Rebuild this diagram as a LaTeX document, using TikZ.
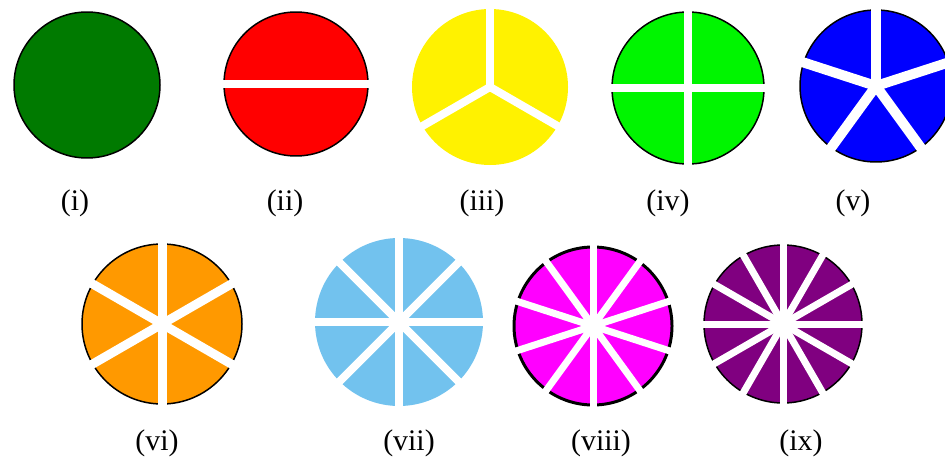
\documentclass[tikz,border=0pt]{standalone}
\usepackage{fontspec}
\setmainfont{Liberation Serif}
\usepackage{tikz}
\definecolor{discgreen}{RGB}{0,122,0}
\definecolor{discred}{RGB}{255,0,0}
\definecolor{discyellow}{RGB}{255,242,0}
\definecolor{disclime}{RGB}{0,245,0}
\definecolor{discblue}{RGB}{0,0,255}
\definecolor{discorange}{RGB}{255,153,0}
\definecolor{discsky}{RGB}{114,194,238}
\definecolor{discmagenta}{RGB}{255,0,255}
\definecolor{discpurple}{RGB}{128,0,128}
% #1 centre, #2 radius, #3 look of the disc, #4 cut width, #5 cut angles
\newcommand{\slicedisc}[5]{%
  \fill[#3] (#1) circle (#2);
  \foreach \ang in {#5}
    \draw[cut,line width=#4] (#1) -- ++(\ang:{#2+4});
  \fill[white] (#1) circle (3);
}

\begin{document}
\begin{tikzpicture}[x=0.02cm,y=0.02cm,
  rim/.style ={draw=black,line width=0.85pt},
  cut/.style ={draw=white,line cap=butt},
  tag/.style ={font=\fontsize{17}{20}\selectfont,inner sep=0pt},
]
\useasboundingbox (0,0) rectangle (945,464);
\clip (0,0) rectangle (945,464);

% top row
\coordinate (c1) at (87,379);
\coordinate (c2) at (296,380);
\coordinate (c3) at (490,377);
\coordinate (c4) at (688,376);
\coordinate (c5) at (876,378);
\fill[discgreen,rim] (c1) circle (73);
\slicedisc{c2}{72}{discred,rim}{0.18cm}{0,180}
\slicedisc{c3}{78}{discyellow}{0.16cm}{90,210,330}
\slicedisc{c4}{76}{disclime,rim}{0.16cm}{0,90,180,270}
\slicedisc{c5}{76}{discblue,rim}{0.2cm}{18,90,162,234,306}

% bottom row
\coordinate (c6) at (162,140);
\coordinate (c7) at (399,142);
\coordinate (c8) at (593,138);
\coordinate (c9) at (783,140);
\slicedisc{c6}{80}{discorange,rim}{0.18cm}{30,90,...,330}
\slicedisc{c7}{84}{discsky}{0.16cm}{0,45,...,315}
\slicedisc{c8}{79}{discmagenta,rim,line width=1.7pt}{0.14cm}{18,54,...,342}
\slicedisc{c9}{79}{discpurple,rim}{0.14cm}{0,30,...,330}
\fill[white] (c8) circle (8);
\fill[white] (c9) circle (10);

% captions
\node[tag] (t1) at (75,261)  {(i)};
\node[tag] (t2) at (285,261) {(ii)};
\node[tag] (t3) at (482,261) {(iii)};
\node[tag] (t4) at (668,261) {(iv)};
\node[tag] (t5) at (853,261) {(v)};
\node[tag] (t6) at (157,21)  {(vi)};
\node[tag] (t7) at (409,21)  {(vii)};
\node[tag] (t8) at (601,21)  {(viii)};
\node[tag] (t9) at (801,21)  {(ix)};
\end{tikzpicture}
\end{document}
